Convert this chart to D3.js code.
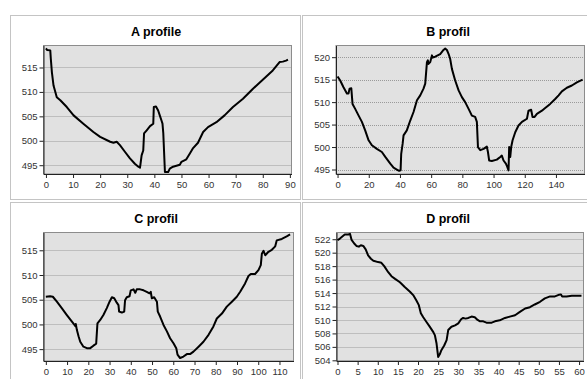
<!DOCTYPE html>
<html>
<head>
<meta charset="utf-8">
<script src="https://cdn.jsdelivr.net/npm/d3@7"></script>
<style>
  html, body { margin: 0; padding: 0; background: #fff; }
  svg { display: block; }
  .tick text { font-family: "Liberation Sans", Arial, sans-serif; font-size: 9.5px; fill: #333; }
  .title { font-family: "Liberation Sans", Arial, sans-serif; font-size: 12.5px; font-weight: bold; fill: #000; }
</style>
</head>
<body>
<svg id="chart" width="587" height="379"></svg>
<script>
// Profile A: distance and elevation
const aDist = [0, 0.4, 1.6, 1.8, 2.2, 2.8, 4, 5.3, 7.7, 10.2, 13.8, 17.5, 20, 23.7, 24.9, 26.1, 27.3, 29.2, 31, 32.8, 34.1, 34.7, 34.9, 35.3, 35.9, 36.2, 37.1, 38.4, 39.6, 39.8, 40.6, 41.4, 42, 42.6, 43, 43.3, 43.9, 45.1, 45.7, 46.9, 49.4, 50, 51.8, 53.1, 54.3, 56.1, 58, 59.8, 62.9, 65.9, 69, 72.7, 76.3, 80, 83.7, 86.2, 87.4, 88.6, 89.3];
const aElev = [518.9, 518.6, 518.5, 516.8, 514, 511.3, 508.9, 508.3, 506.9, 505.2, 503.5, 501.8, 500.8, 499.8, 499.6, 499.8, 499.1, 497.7, 496.4, 495.3, 494.7, 494.5, 495.3, 497, 498, 501.5, 502.1, 503, 503.5, 506.9, 507, 506.2, 505.2, 504.2, 503.5, 501.5, 493.6, 493.6, 494.3, 494.7, 495.1, 495.7, 496.2, 497.4, 498.5, 499.6, 501.8, 502.8, 503.8, 505.2, 506.9, 508.6, 510.6, 512.5, 514.4, 516.1, 516.2, 516.4, 516.6];

// Profile B
const bDist = [0, 1.7, 3.8, 6, 7, 7.7, 8.8, 9.6, 11.3, 13.5, 15.6, 17.7, 19.9, 22, 25.2, 28.4, 30.6, 33.8, 35.9, 38, 39.5, 40.4, 40.8, 41.7, 42.3, 44.4, 46.6, 48.7, 50.9, 53, 55.1, 56.2, 57.3, 57.9, 58.3, 59.4, 60.5, 60.9, 62.6, 65.8, 67.9, 69, 70.1, 71.2, 72.2, 73.3, 75.4, 77.6, 79.7, 81.8, 84, 86.1, 88.2, 89.3, 90, 91.5, 93.6, 95.7, 96.4, 97.2, 98.9, 102.1, 104.3, 105.3, 106.4, 107.9, 108.8, 109.6, 110, 110.7, 111.3, 112.2, 113.9, 116, 118.2, 121.4, 122.4, 124.1, 125, 126.3, 127.8, 131, 133.1, 136.3, 139.5, 141.7, 143.8, 147, 150.2, 153.4, 157.1];
const bElev = [515.7, 514.8, 513.3, 511.9, 511.9, 513, 513.1, 509.6, 508.5, 507, 505.6, 503.7, 501.5, 500.4, 499.6, 498.9, 497.8, 496.3, 495.4, 495, 494.7, 494.8, 498.5, 500.7, 502.6, 503.7, 505.9, 507.8, 510.4, 511.5, 513, 514.1, 518.9, 519.3, 518.5, 518.9, 520.4, 519.9, 520.1, 520.7, 521.6, 521.9, 521.6, 520.7, 519.6, 517.4, 514.8, 512.6, 511.1, 510, 508.5, 507, 506.7, 505.6, 500, 499.3, 499.6, 500.1, 498.9, 497, 496.9, 497.2, 497.8, 498.1, 497, 496.3, 495.6, 494.8, 500, 497.8, 500, 501.5, 503.3, 504.8, 505.6, 506.3, 508.1, 508.3, 506.7, 506.7, 507.4, 508.1, 508.7, 509.6, 510.7, 511.5, 512.4, 513.2, 513.7, 514.4, 515];

// Profile C
const cDist = [0, 2, 3.3, 5.2, 7.5, 9.9, 12.2, 13.3, 14, 14.1, 14.6, 15.4, 16.2, 17.7, 19.3, 20.9, 22.4, 23.7, 24, 24.3, 25.6, 27.1, 28.7, 30, 31.1, 32.2, 33.4, 34.2, 34.5, 35.8, 36.9, 37.3, 38.1, 39.4, 40, 41.3, 42.1, 42.8, 44.4, 46, 47.5, 48.8, 49.4, 49.9, 51, 52.3, 52.7, 53.8, 55.4, 57, 58.5, 60.1, 61.4, 62, 63.2, 64.8, 66.4, 67.9, 69.5, 71.9, 74.2, 76.6, 78.9, 80.5, 82.9, 85.2, 87.6, 89.9, 91.5, 93.8, 95.4, 96.5, 98.5, 100.1, 101.2, 101.7, 102.5, 103.3, 104.8, 106.4, 108, 108.7, 111.1, 113.4, 115];
const cElev = [505.6, 505.7, 505.6, 504.6, 503.3, 501.9, 500.6, 500, 499.6, 500.1, 498.9, 497.6, 496.5, 495.5, 495.2, 495.2, 495.7, 496.1, 498.2, 500.2, 500.9, 501.9, 503.3, 504.6, 505.5, 505.3, 504.4, 503.9, 502.6, 502.4, 502.6, 504.9, 505.5, 505.7, 506.9, 507.1, 506.4, 507.1, 507.1, 506.9, 506.6, 506.3, 506.6, 505.3, 505.5, 504.6, 502.6, 501.6, 499.9, 498.6, 497.2, 496.2, 495.2, 493.9, 493.2, 493.5, 494, 494, 494.5, 495.5, 496.5, 497.9, 499.6, 501.2, 502.2, 503.6, 504.6, 505.6, 506.6, 508.3, 509.8, 510.2, 510.2, 511, 512, 514.3, 514.9, 514, 514.7, 515.1, 515.8, 517, 517.3, 517.8, 518.2];

// Profile D
const dDist = [0, 0.6, 1.2, 1.8, 2.7, 3.1, 3.5, 4.1, 4.7, 5.3, 5.8, 6.4, 7, 7.6, 8.3, 8.9, 10.1, 10.9, 11.6, 12.6, 13.4, 14.3, 15.5, 16.7, 18, 18.8, 19.6, 20.2, 20.7, 21.3, 22.1, 22.9, 23.8, 24.2, 24.6, 24.9, 25, 25.4, 25.8, 26.5, 27.1, 27.5, 28.3, 29.2, 30, 30.7, 31.2, 31.8, 32.5, 33.3, 34.1, 34.8, 35.4, 36.2, 37, 38.3, 39.1, 40.3, 41.6, 42.8, 44.1, 45.3, 46.6, 47.8, 49, 50.3, 51.5, 52.8, 54, 54.8, 55.5, 55.8, 56.9, 58.2, 59.4, 60.6];
const dElev = [521.85, 522.1, 522.4, 522.7, 522.7, 522.8, 521.9, 521.4, 521, 520.9, 521.1, 521, 520.5, 519.6, 519.1, 518.8, 518.6, 518.5, 518, 517.1, 516.5, 516.1, 515.6, 514.9, 514.2, 513.7, 512.9, 512.2, 511, 510.4, 509.7, 509, 508.2, 507.7, 506.5, 505, 504.5, 504.9, 505.5, 506.2, 507, 508.5, 509, 509.2, 509.5, 510.1, 510.3, 510.2, 510.3, 510.5, 510.4, 510, 509.8, 509.8, 509.6, 509.6, 509.8, 509.95, 510.3, 510.5, 510.7, 511.2, 511.7, 511.9, 512.3, 512.7, 513.2, 513.5, 513.5, 513.7, 513.8, 513.5, 513.5, 513.6, 513.6, 513.6];

// Titles and axis tick values
const titles = ["A profile", "B profil", "C profil", "D profil"];
const aXTicks = [0, 10, 20, 30, 40, 50, 60, 70, 80, 90];
const aYTicks = [495, 500, 505, 510, 515];
const bXTicks = [0, 20, 40, 60, 80, 100, 120, 140];
const bYTicks = [495, 500, 505, 510, 515, 520];
const cXTicks = [0, 10, 20, 30, 40, 50, 60, 70, 80, 90, 100, 110];
const cYTicks = [495, 500, 505, 510, 515];
const dXTicks = [0, 5, 10, 15, 20, 25, 30, 35, 40, 45, 50, 55, 60];
const dYTicks = [504, 506, 508, 510, 512, 514, 516, 518, 520, 522];

// Panel layout (pixel boxes) and axis extents
const panels = [
  { title: titles[0], xs: aDist, ys: aElev, xTicks: aXTicks, yTicks: aYTicks,
    frame: [10.5, 15.5, 290, 184], plot: [43.5, 45.5, 291.5, 174],
    xDom: [-0.9, 90.6], yDom: [493.2, 519.5] },
  { title: titles[1], xs: bDist, ys: bElev, xTicks: bXTicks, yTicks: bYTicks,
    frame: [302.5, 15.5, 290, 184], plot: [336, 45.5, 584.5, 174],
    xDom: [-1, 158.3], yDom: [494, 522.6] },
  { title: titles[2], xs: cDist, ys: cElev, xTicks: cXTicks, yTicks: cYTicks,
    frame: [10.5, 202.5, 290, 190], plot: [43.5, 232.5, 293.5, 361],
    xDom: [-1.1, 116.6], yDom: [492.6, 518.6] },
  { title: titles[3], xs: dDist, ys: dElev, xTicks: dXTicks, yTicks: dYTicks,
    frame: [302.5, 202.5, 290, 190], plot: [336.5, 232.5, 583.5, 361],
    xDom: [-0.25, 61.1], yDom: [503.9, 523] }
];

const svg = d3.select("#chart");

panels.forEach(p => {
  const [fx, fy, fw, fh] = p.frame;
  const [l, t, r, b] = p.plot;
  const g = svg.append("g");

  // outer panel frame
  g.append("rect")
    .attr("x", fx).attr("y", fy).attr("width", fw).attr("height", fh)
    .attr("fill", "#fff").attr("stroke", "#c4c4c4").attr("stroke-width", 1);

  // title
  g.append("text").attr("class", "title")
    .attr("x", fx + fw / 2 + 0.5).attr("y", fy + 20)
    .attr("text-anchor", "middle").text(p.title);

  const x = d3.scaleLinear().domain(p.xDom).range([l, r]);
  const y = d3.scaleLinear().domain(p.yDom).range([b, t]);

  // plot background
  g.append("rect")
    .attr("x", l).attr("y", t).attr("width", r - l).attr("height", b - t)
    .attr("fill", "#e1e1e1");

  // horizontal grid lines
  g.selectAll(".grid").data(p.yTicks).enter().append("line")
    .attr("x1", l).attr("x2", r)
    .attr("y1", d => Math.round(y(d)) + 0.5).attr("y2", d => Math.round(y(d)) + 0.5)
    .attr("stroke", "#9a9a9a").attr("stroke-width", 1)
    .attr("stroke-dasharray", "1,1");

  // plot border
  g.append("rect")
    .attr("x", l).attr("y", t).attr("width", r - l).attr("height", b - t)
    .attr("fill", "none").attr("stroke", "#8c8c8c").attr("stroke-width", 1);

  // axes
  const xAxis = d3.axisBottom(x).tickValues(p.xTicks).tickSize(4).tickPadding(3).tickSizeOuter(0);
  const yAxis = d3.axisLeft(y).tickValues(p.yTicks).tickSize(4).tickPadding(2).tickSizeOuter(0);

  const gx = g.append("g").attr("transform", `translate(0,${b})`).call(xAxis);
  const gy = g.append("g").attr("transform", `translate(${l},0)`).call(yAxis);
  [gx, gy].forEach(a => {
    a.select(".domain").attr("stroke", "#222");
    a.selectAll(".tick line").attr("stroke", "#222");
  });

  // elevation profile line
  const line = d3.line().x((d, i) => x(p.xs[i])).y(d => y(d));
  g.append("path")
    .datum(p.ys)
    .attr("d", line)
    .attr("fill", "none")
    .attr("stroke", "#000")
    .attr("stroke-width", 2)
    .attr("stroke-linejoin", "round");
});
</script>
</body>
</html>
